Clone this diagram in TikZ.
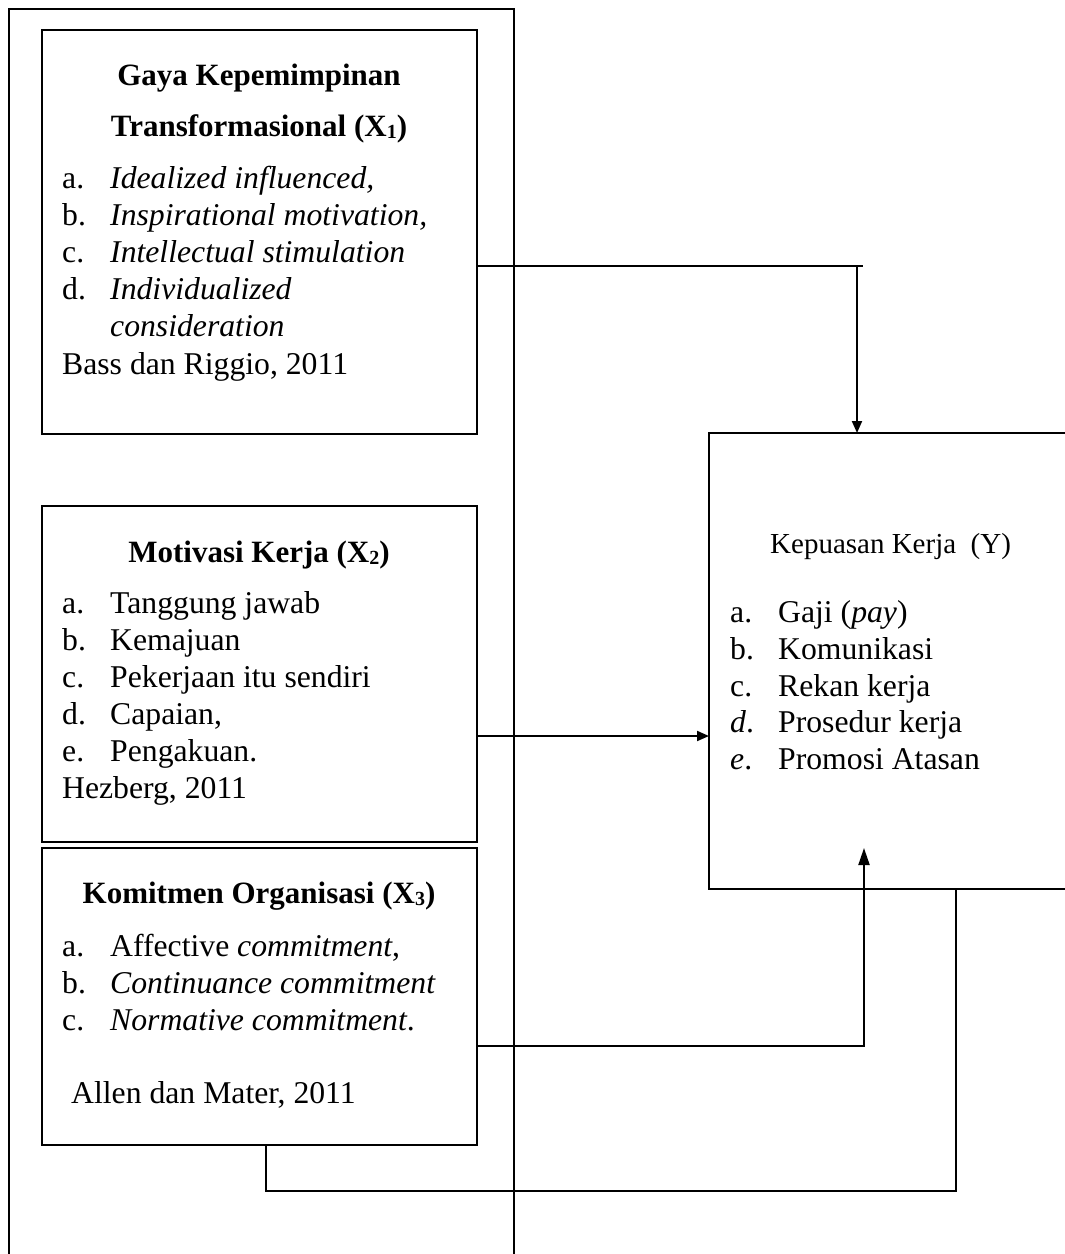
\documentclass[tikz,border=0pt]{standalone}
\usepackage{fontspec}
\setmainfont{Liberation Serif}
\usetikzlibrary{arrows.meta}
\newcommand{\sbx}[1]{\raisebox{-2.5pt}{\fontsize{20}{20}\selectfont #1}}
\begin{document}
\begin{tikzpicture}[x=1pt,y=-1pt,
  line/.style={line width=2pt, draw=black},
  box/.style={draw, line width=2pt, rectangle, inner sep=0pt, anchor=north west},
  txt/.style={anchor=base west, inner sep=0pt, font=\fontsize{31.7}{37}\selectfont},
  ttl/.style={anchor=base, inner sep=0pt, font=\fontsize{31}{37}\selectfont\bfseries},
  tipa/.style={-{Triangle[length=12pt,width=10pt]}},
  tipb/.style={-{Triangle[length=17pt,width=11pt]}}
]
\useasboundingbox (0,0) rectangle (1065,1254);
\clip (0,0) rectangle (1065,1254);

% outer frame (open at the bottom)
\node[inner sep=0pt, minimum width=505pt, minimum height=1260pt, anchor=north west] (frame) at (9,9) {};
\draw[line] (frame.south west) -- (frame.north west) -- (frame.north east) -- (frame.south east);

% boxes
\node[box, minimum width=435pt, minimum height=404pt] (b1) at (41,29) {};
\node[box, minimum width=435pt, minimum height=336pt] (b2) at (41,505) {};
\node[box, minimum width=435pt, minimum height=297pt] (b3) at (41,847) {};
\node[inner sep=0pt, minimum width=371pt, minimum height=456pt, anchor=north west] (y) at (709,433) {};
\draw[line] (y.north east) -- (y.north west) -- (y.south west) -- (y.south east);

% box 1 text
\node[ttl] (t1a) at (259,85) {Gaya Kepemimpinan};
\node[ttl] (t1b) at (259,136) {Transformasional (X\sbx{1})};
\node[txt] (l1a) at (62,188) {a.};
\node[txt] (i1a) at (110,188) {\itshape Idealized influenced,};
\node[txt] (l1b) at (62,225) {b.};
\node[txt] (i1b) at (110,225) {\itshape Inspirational motivation,};
\node[txt] (l1c) at (62,262) {c.};
\node[txt] (i1c) at (110,262) {\itshape Intellectual stimulation};
\node[txt] (l1d) at (62,299) {d.};
\node[txt] (i1d) at (110,299) {\itshape Individualized};
\node[txt] (i1e) at (110,336) {\itshape consideration};
\node[txt] (s1) at (62,374) {Bass dan Riggio, 2011};

% box 2 text
\node[ttl] (t2) at (259,562) {Motivasi Kerja (X\sbx{2})};
\node[txt] (l2a) at (62,613) {a.};
\node[txt] (i2a) at (110,613) {Tanggung jawab};
\node[txt] (l2b) at (62,650) {b.};
\node[txt] (i2b) at (110,650) {Kemajuan};
\node[txt] (l2c) at (62,687) {c.};
\node[txt] (i2c) at (110,687) {Pekerjaan itu sendiri};
\node[txt] (l2d) at (62,724) {d.};
\node[txt] (i2d) at (110,724) {Capaian,};
\node[txt] (l2e) at (62,761) {e.};
\node[txt] (i2e) at (110,761) {Pengakuan.};
\node[txt] (s2) at (62,798) {Hezberg, 2011};

% box 3 text
\node[ttl] (t3) at (259,903) {Komitmen Organisasi (X\sbx{3})};
\node[txt] (l3a) at (62,956) {a.};
\node[txt] (i3a) at (110,956) {Affective \textit{commitment},};
\node[txt] (l3b) at (62,993) {b.};
\node[txt] (i3b) at (110,993) {\itshape Continuance commitment};
\node[txt] (l3c) at (62,1030) {c.};
\node[txt] (i3c) at (110,1030) {\textit{Normative commitment}.};
\node[txt] (s3) at (71,1103) {Allen dan Mater, 2011};

% Y box text
\node[anchor=base west, inner sep=0pt, font=\fontsize{29}{34}\selectfont] (ty) at (770,553) {Kepuasan Kerja\ \ (Y)};
\node[txt] (lya) at (730,622) {a.};
\node[txt] (iya) at (778,622) {Gaji (\textit{pay})};
\node[txt] (lyb) at (730,659) {b.};
\node[txt] (iyb) at (778,659) {Komunikasi};
\node[txt] (lyc) at (730,696) {c.};
\node[txt] (iyc) at (778,696) {Rekan kerja};
\node[txt] (lyd) at (730,732) {\textit{d}.};
\node[txt] (iyd) at (778,732) {Prosedur kerja};
\node[txt] (lye) at (730,769) {\textit{e}.};
\node[txt] (iye) at (778,769) {Promosi Atasan};

% connectors
\coordinate (j1) at (863,266);
\coordinate (k1) at (857,266);
\draw[line] (b1.east |- j1) -- (j1);
\draw[line, tipa] (k1) -- (k1 |- y.north);

\coordinate (j2) at (600,736);
\draw[line, tipa] (b2.east |- j2) -- (y.west |- j2);

\coordinate (j3) at (864,1046);
\coordinate (t3tip) at (864,848);
\draw[line, tipb] (b3.east |- j3) -- (j3) -- (t3tip);

\coordinate (j4a) at (266,1191);
\coordinate (j4b) at (956,1191);
\draw[line] (b3.south -| j4a) -- (j4a) -- (j4b) -- (j4b |- y.south);
\end{tikzpicture}
\end{document}
